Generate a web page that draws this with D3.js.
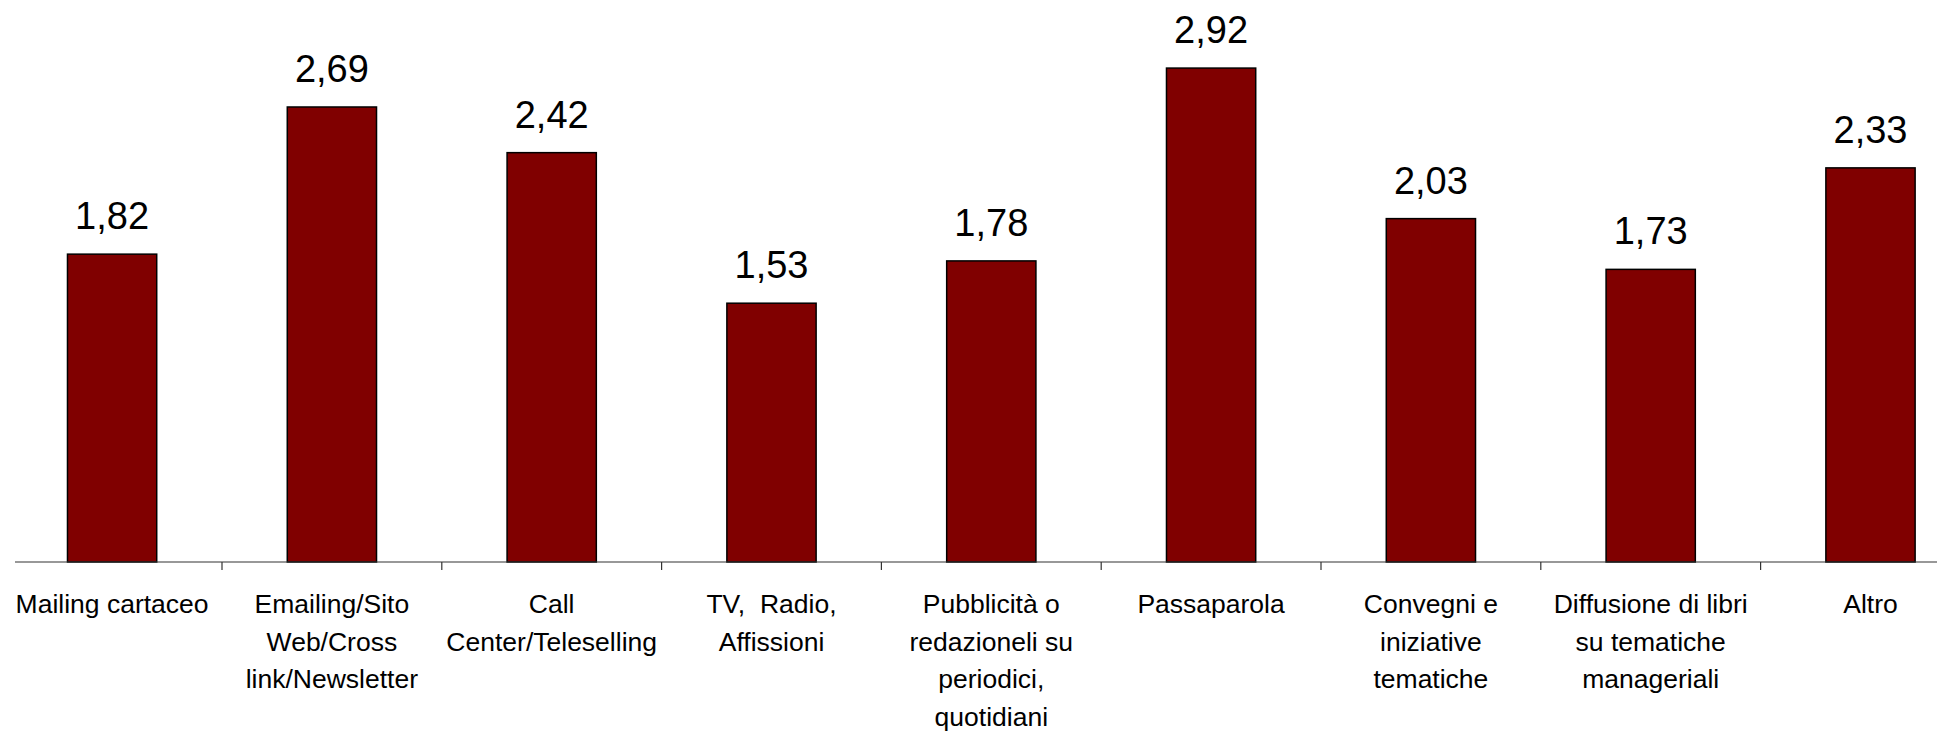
<!DOCTYPE html>
<html>
<head>
<meta charset="utf-8">
<script src="https://cdn.jsdelivr.net/npm/d3@7"></script>
<style>
  html, body { margin: 0; padding: 0; background: #fff; }
  svg { display: block; }
  text { font-family: "Liberation Sans", Arial, sans-serif; fill: #000; white-space: pre; }
</style>
</head>
<body>
<svg id="chart" width="1937" height="733"></svg>
<script>
const categories = [
  "Mailing cartaceo",
  "Emailing/Sito Web/Cross link/Newsletter",
  "Call Center/Teleselling",
  "TV,  Radio, Affissioni",
  "Pubblicità o redazioneli su periodici, quotidiani",
  "Passaparola",
  "Convegni e iniziative tematiche",
  "Diffusione di libri su tematiche manageriali",
  "Altro"
];
const labelLines = [
  ["Mailing cartaceo"],
  ["Emailing/Sito", "Web/Cross", "link/Newsletter"],
  ["Call", "Center/Teleselling"],
  ["TV,  Radio,", "Affissioni"],
  ["Pubblicità o", "redazioneli su", "periodici,", "quotidiani"],
  ["Passaparola"],
  ["Convegni e", "iniziative", "tematiche"],
  ["Diffusione di libri", "su tematiche", "manageriali"],
  ["Altro"]
];
const values = [1.82, 2.69, 2.42, 1.53, 1.78, 2.92, 2.03, 1.73, 2.33];
const valueLabels = ["1,82", "2,69", "2,42", "1,53", "1,78", "2,92", "2,03", "1,73", "2,33"];

const svg = d3.select("#chart");
const baseY = 562;
const x = d3.scaleBand().domain(categories).range([2.2, 2.2 + 9 * 219.8]).padding(0);
const y = d3.scaleLinear().domain([0, 3.5]).range([baseY, baseY - 3.5 * 169.15]);
const barW = x.bandwidth() * 0.406;

// bars
svg.selectAll("rect.bar").data(values).enter().append("rect")
  .attr("class", "bar")
  .attr("x", (d, i) => x(categories[i]) + (x.bandwidth() - barW) / 2)
  .attr("y", d => y(d))
  .attr("width", barW)
  .attr("height", d => y(0) - y(d))
  .attr("fill", "#800000")
  .attr("stroke", "#000")
  .attr("stroke-width", 1.5);

// value labels
svg.selectAll("text.val").data(values).enter().append("text")
  .attr("class", "val")
  .attr("x", (d, i) => x(categories[i]) + x.bandwidth() / 2)
  .attr("y", d => y(d) - 25)
  .attr("text-anchor", "middle")
  .attr("font-size", 38)
  .text((d, i) => valueLabels[i]);

// axis line
svg.append("line")
  .attr("x1", 15).attr("x2", 1937)
  .attr("y1", baseY).attr("y2", baseY)
  .attr("stroke", "#333").attr("stroke-width", 1.2);

// ticks between categories
const tickPos = categories.slice(1).map(c => x(c));
svg.selectAll("line.tick").data(tickPos).enter().append("line")
  .attr("class", "tick")
  .attr("x1", d => d).attr("x2", d => d)
  .attr("y1", baseY).attr("y2", baseY + 8)
  .attr("stroke", "#333").attr("stroke-width", 1.2);

// category labels
const lab = svg.selectAll("text.cat").data(categories).enter().append("text")
  .attr("class", "cat")
  .attr("text-anchor", "middle")
  .attr("font-size", 26.5)
  .attr("x", c => x(c) + x.bandwidth() / 2)
  .attr("y", 613);
lab.each(function (c, i) {
  const t = d3.select(this);
  labelLines[i].forEach((ln, j) => {
    t.append("tspan")
      .attr("x", x(c) + x.bandwidth() / 2)
      .attr("y", 613 + j * 37.5)
      .text(ln);
  });
});
</script>
</body>
</html>
